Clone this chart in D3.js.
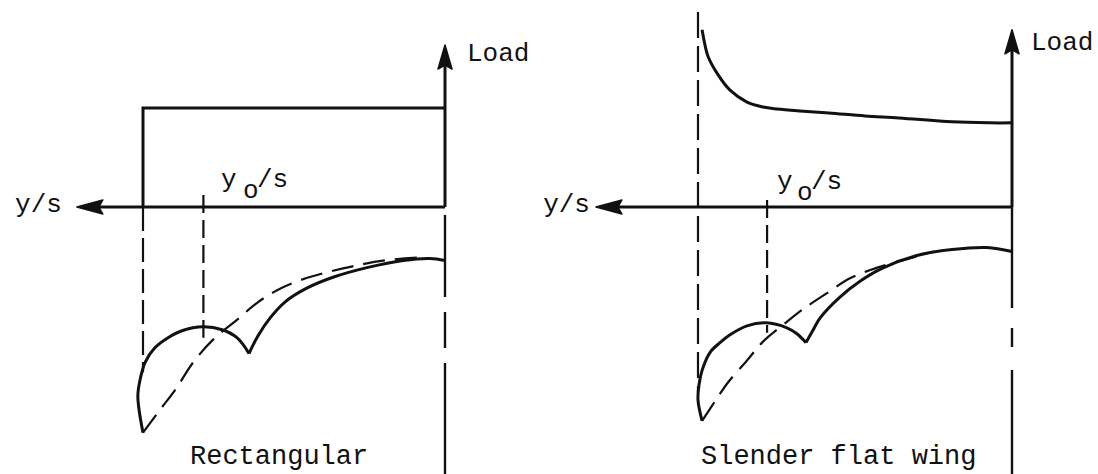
<!DOCTYPE html>
<html><head><meta charset="utf-8">
<script src="https://cdn.jsdelivr.net/npm/d3@7"></script>
<style>
html,body{margin:0;padding:0;background:#fff;}
svg{display:block;}
text{font-family:"Liberation Mono","Courier New","DejaVu Sans Mono",monospace;fill:#111;}
</style></head><body>
<svg id="chart" width="1098" height="474"></svg>
<script>
// ---------- data (s = y/s, v = load / lower-curve ordinate) ----------
const panelTitles = ["Rectangular", "Slender flat wing"];
const xAxisLabel = "y/s";
const yAxisLabel = "Load";
const y0Label = ["y", "o", "/s"];
const y0Values = [0.80, 0.78];

// spanwise load distributions
const rectLoad = [[1.0, 0], [1.0, 1.0], [0, 1.0]];
const slenderLoad = [[0.987,1.79],[0.978,1.64],[0.968,1.52],[0.939,1.35],[0.898,1.18],[0.844,1.06],
  [0.793,1.01],[0.748,0.99],[0.675,0.97],[0.583,0.95],[0.468,0.92],[0.360,0.90],[0.191,0.86],[0.070,0.85],[0,0.85]];

// lower curves, rectangular wing
const rectSolidArch = [[1.000,-2.28],[1.013,-2.05],[1.017,-1.90],[1.010,-1.75],[0.993,-1.57],[0.960,-1.42],
  [0.917,-1.32],[0.871,-1.25],[0.801,-1.21],[0.738,-1.24],[0.689,-1.32],[0.649,-1.48]];
const rectSolidRise = [[0.649,-1.48],[0.619,-1.30],[0.579,-1.12],[0.530,-0.96],[0.464,-0.83],[0.371,-0.71],
  [0.255,-0.61],[0.139,-0.54],[0.050,-0.52],[0,-0.54]];
const rectDashed = [[1.000,-2.28],[0.944,-2.05],[0.894,-1.85],[0.834,-1.57],[0.768,-1.34],[0.689,-1.14],
  [0.623,-0.97],[0.556,-0.84],[0.480,-0.74],[0.338,-0.62],[0.199,-0.54],[0.083,-0.51]];

// lower curves, slender flat wing
const slenderSolidArch = [[0.987,-2.16],[1.000,-1.95],[0.997,-1.80],[0.987,-1.65],[0.962,-1.47],[0.930,-1.37],
  [0.898,-1.29],[0.844,-1.20],[0.783,-1.17],[0.717,-1.22],[0.685,-1.28],[0.656,-1.37]];
const slenderSolidRise = [[0.656,-1.37],[0.633,-1.24],[0.611,-1.12],[0.548,-0.91],[0.484,-0.75],[0.414,-0.62],
  [0.303,-0.49],[0.191,-0.43],[0.080,-0.41],[0,-0.45]];
const slenderDashed = [[0.987,-2.16],[0.939,-1.93],[0.904,-1.77],[0.844,-1.55],[0.793,-1.36],[0.717,-1.16],
  [0.669,-1.04],[0.589,-0.87],[0.516,-0.72],[0.427,-0.61],[0.315,-0.51],[0.248,-0.45]];

// ---------- layout ----------
const INK = "#111";
const svg = d3.select("#chart");
const yScale = d3.scaleLinear().domain([0, 1]).range([207, 108]);
const vBottom = yScale.invert(480);

const panels = [
  { title: panelTitles[0], range: [445, 143], xTip: 1.219, loadTip: 1.636, load: rectLoad, loadCurve: d3.curveLinear,
    arch: rectSolidArch, rise: rectSolidRise, dashed: rectDashed, y0: y0Values[0],
    tipLine: [0, -1.67], y0Line: [0.12, -1.32], tipDash: "24,7", y0Dash: "18,7",
    rootDashStart: -0.08, rootDash: "82,15,36,15,300",
    loadLabel: [22, 16], yLabelEnd: -15, y0Text: [221, 243, 257, 187],
    titleX: 190, titleY: 464 },
  { title: panelTitles[1], range: [1012, 698], xTip: 1.325, loadTip: 1.79, load: slenderLoad, loadCurve: d3.curveCatmullRom.alpha(0.5),
    arch: slenderSolidArch, rise: slenderSolidRise, dashed: slenderDashed, y0: y0Values[1],
    tipLine: [1.97, -1.87], y0Line: [0.07, -1.27], tipDash: "26,8", y0Dash: "18,7",
    rootDashStart: 0, rootDash: "101,20,19,23,300",
    loadLabel: [19, 20], yLabelEnd: -6, y0Text: [777, 797, 811, 189],
    titleX: 701, titleY: 464 }
];

panels.forEach(p => {
  const x = d3.scaleLinear().domain([0, 1]).range(p.range);
  const g = svg.append("g");
  const smooth = d3.line().x(d => x(d[0])).y(d => yScale(d[1])).curve(d3.curveCatmullRom.alpha(0.5));

  // horizontal (y/s) axis with arrow
  const tipX = x(p.xTip), ax0 = yScale(0);
  g.append("line").attr("x1", x(0)).attr("x2", tipX + 20).attr("y1", ax0).attr("y2", ax0)
    .attr("stroke", INK).attr("stroke-width", 3);
  g.append("path").attr("d", `M${tipX},${ax0} L${tipX + 26},${ax0 - 7} L${tipX + 22},${ax0} L${tipX + 26},${ax0 + 7} Z`)
    .attr("fill", INK).attr("stroke", INK).attr("stroke-width", 1.5).attr("stroke-linejoin", "round");

  // vertical Load axis with arrow
  const lx = x(0), ly = yScale(p.loadTip);
  g.append("line").attr("x1", lx).attr("x2", lx).attr("y1", ax0).attr("y2", ly + 18)
    .attr("stroke", INK).attr("stroke-width", 3);
  g.append("path").attr("d", `M${lx},${ly} L${lx - 7},${ly + 24} L${lx},${ly + 20} L${lx + 7},${ly + 24} Z`)
    .attr("fill", INK).attr("stroke", INK).attr("stroke-width", 1.5).attr("stroke-linejoin", "round");

  // dashed continuation of root line
  g.append("line").attr("x1", lx).attr("x2", lx).attr("y1", yScale(p.rootDashStart)).attr("y2", yScale(vBottom))
    .attr("stroke", INK).attr("stroke-width", 2.4).attr("stroke-dasharray", p.rootDash);

  // tip dashed line
  g.append("line").attr("x1", x(1)).attr("x2", x(1)).attr("y1", yScale(p.tipLine[0])).attr("y2", yScale(p.tipLine[1]))
    .attr("stroke", INK).attr("stroke-width", 2.2).attr("stroke-dasharray", p.tipDash);
  // y0 dashed line
  g.append("line").attr("x1", x(p.y0)).attr("x2", x(p.y0)).attr("y1", yScale(p.y0Line[0])).attr("y2", yScale(p.y0Line[1]))
    .attr("stroke", INK).attr("stroke-width", 2.2).attr("stroke-dasharray", p.y0Dash);

  // load distribution
  g.append("path").attr("d", d3.line().x(d => x(d[0])).y(d => yScale(d[1])).curve(p.loadCurve)(p.load))
    .attr("fill", "none").attr("stroke", INK).attr("stroke-width", 3).attr("stroke-linejoin", "miter");

  // lower curves
  g.append("path").attr("d", smooth(p.dashed)).attr("fill", "none").attr("stroke", INK)
    .attr("stroke-width", 2.2).attr("stroke-dasharray", "22,10");
  g.append("path").attr("d", smooth(p.arch)).attr("fill", "none").attr("stroke", INK).attr("stroke-width", 3);
  g.append("path").attr("d", smooth(p.rise)).attr("fill", "none").attr("stroke", INK).attr("stroke-width", 3);

  // labels
  g.append("text").attr("x", lx + p.loadLabel[0]).attr("y", ly + p.loadLabel[1])
    .style("font-size", "26px").text(yAxisLabel);
  g.append("text").attr("x", tipX + p.yLabelEnd).attr("y", ax0 + 5).attr("text-anchor", "end")
    .style("font-size", "26px").text(xAxisLabel);
  const t = g.append("text").style("font-size", "26px");
  t.append("tspan").attr("x", p.y0Text[0]).attr("y", p.y0Text[3]).text(y0Label[0]);
  t.append("tspan").attr("x", p.y0Text[1]).attr("y", p.y0Text[3] + 11).text(y0Label[1]);
  t.append("tspan").attr("x", p.y0Text[2]).attr("y", p.y0Text[3]).text(y0Label[2]);
  g.append("text").attr("x", p.titleX).attr("y", p.titleY).style("font-size", "27px").text(p.title);
});
</script>
</body></html>
